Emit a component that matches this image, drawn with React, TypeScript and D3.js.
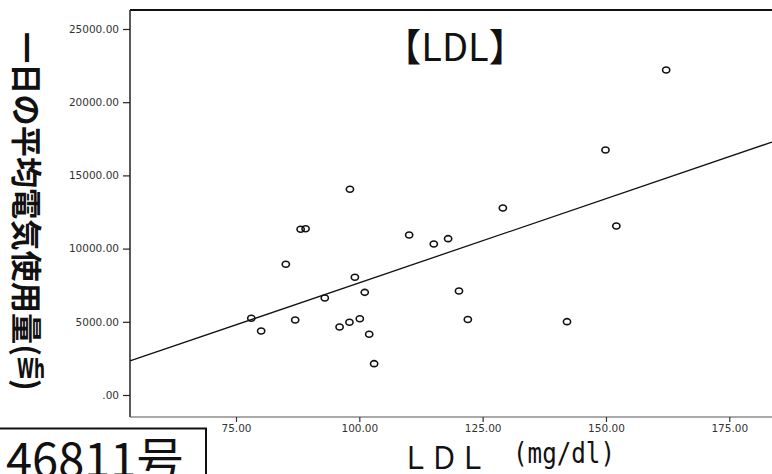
import { useEffect, useRef } from "react";
import * as d3 from "d3";

// LDL (mg/dl) vs daily average electricity use (Wh)
const ldl = [78.1, 80.1, 85.1, 87.0, 88.1, 89.1, 93.0, 96.0, 98.1, 98.0, 99.1, 100.1, 101.1, 102.0, 103.0,
    110.1, 115.1, 118.0, 120.2, 122.0, 129.1, 142.1, 149.9, 152.1, 162.2];
const wh = [5240, 4370, 8930, 5120, 11320, 11360, 6630, 4640, 14050, 4970, 8040, 5210, 7010, 4150, 2140,
    10930, 10310, 10680, 7100, 5160, 12770, 5010, 16730, 11540, 22200];

const xTicks = [75, 100, 125, 150, 175];
const yTicks = [0, 5000, 10000, 15000, 20000, 25000];

// fitted line as drawn: wh = a + b * ldl
const fitIntercept = -3825;
const fitSlope = 114.9;

export default function App() {
    const svgRef = useRef<SVGSVGElement>(null);

    useEffect(() => {
        if (!svgRef.current) return;
        const svg = d3.select(svgRef.current);
        svg.selectAll("*").remove();

        const W = 772, H = 474;
        const frame = { left: 130, top: 10, bottom: 417, right: 772 };
        const tickFont = "'DejaVu Sans', Verdana, sans-serif";
        const cjk = "'Noto Sans CJK JP', sans-serif";

        const x = d3.scaleLinear().domain([75, 175]).range([236, 729.3]);
        const y = d3.scaleLinear().domain([0, 25000]).range([395, 29]);

        svg.append("rect").attr("width", W).attr("height", H).attr("fill", "#fff");

        // frame
        svg.append("line")
            .attr("x1", frame.left).attr("x2", frame.right).attr("y1", frame.top).attr("y2", frame.top)
            .attr("stroke", "#111").attr("stroke-width", 2);
        svg.append("line")
            .attr("x1", frame.left).attr("x2", frame.left).attr("y1", frame.top).attr("y2", frame.bottom)
            .attr("stroke", "#222").attr("stroke-width", 1.5);
        svg.append("line")
            .attr("x1", frame.left).attr("x2", frame.right).attr("y1", frame.bottom).attr("y2", frame.bottom)
            .attr("stroke", "#555").attr("stroke-width", 1.2);

        // y axis
        const yAxis = svg.append("g")
            .attr("transform", `translate(${frame.left},0)`)
            .call(d3.axisLeft(y).tickValues(yTicks).tickSize(7).tickPadding(4)
                .tickFormat(d => (+d === 0 ? ".00" : d3.format(".2f")(+d))));
        yAxis.select(".domain").remove();
        yAxis.selectAll("line").attr("stroke", "#222").attr("stroke-width", 1.2);
        yAxis.selectAll("text").attr("font-family", tickFont)
            .attr("font-size", 10.5).attr("fill", "#333");

        // x axis
        const xAxis = svg.append("g")
            .attr("transform", `translate(0,${frame.bottom})`)
            .call(d3.axisBottom(x).tickValues(xTicks).tickSize(5).tickPadding(3)
                .tickFormat(d => d3.format(".2f")(+d)));
        xAxis.select(".domain").remove();
        xAxis.selectAll("line").attr("stroke", "#333").attr("stroke-width", 1.2);
        xAxis.selectAll("text").attr("font-family", tickFont)
            .attr("font-size", 10.5).attr("fill", "#333");

        // fit line
        const xs = [x.invert(frame.left), x.invert(frame.right)];
        svg.append("path")
            .datum(xs)
            .attr("fill", "none")
            .attr("stroke", "#111")
            .attr("stroke-width", 1.3)
            .attr("d", d3.line<number>().x(d => x(d)).y(d => y(fitIntercept + fitSlope * d)));

        // points
        svg.append("g")
            .selectAll("ellipse")
            .data(ldl.map((v, i) => [v, wh[i]]))
            .join("ellipse")
            .attr("cx", d => x(d[0]))
            .attr("cy", d => y(d[1]))
            .attr("rx", 3.6)
            .attr("ry", 3)
            .attr("fill", "none")
            .attr("stroke", "#111")
            .attr("stroke-width", 1.6);

        // title
        svg.append("text")
            .attr("x", 455).attr("y", 61)
            .attr("text-anchor", "middle")
            .attr("font-family", cjk)
            .attr("font-size", 38)
            .attr("fill", "#111")
            .text("【LDL】");

        // x title
        svg.append("text")
            .attr("x", 401).attr("y", 469)
            .attr("font-family", cjk)
            .attr("font-size", 31)
            .attr("fill", "#111")
            .attr("textLength", 86)
            .attr("lengthAdjust", "spacingAndGlyphs")
            .text("ＬＤＬ");
        svg.append("text")
            .attr("x", 513).attr("y", 463)
            .attr("font-family", "'DejaVu Sans Mono', 'Liberation Mono', monospace")
            .attr("font-size", 29)
            .attr("fill", "#111")
            .attr("textLength", 102)
            .attr("lengthAdjust", "spacingAndGlyphs")
            .text("(mg/dl)");

        // y title: sideways CJK, upright "Wh"
        svg.append("text")
            .attr("transform", "translate(28,32) rotate(90)")
            .attr("dominant-baseline", "central")
            .attr("font-family", cjk)
            .attr("font-weight", 700)
            .attr("font-size", 31)
            .attr("fill", "#111")
            .attr("textLength", 324)
            .attr("lengthAdjust", "spacingAndGlyphs")
            .text("一日の平均電気使用量(");
        svg.append("text")
            .attr("x", 31).attr("y", 378)
            .attr("text-anchor", "middle")
            .attr("font-family", "'DejaVu Sans', sans-serif")
            .attr("font-weight", 700)
            .attr("font-size", 26)
            .attr("fill", "#111")
            .attr("textLength", 28)
            .attr("lengthAdjust", "spacingAndGlyphs")
            .text("Wh");
        svg.append("text")
            .attr("transform", "translate(28,379) rotate(90)")
            .attr("dominant-baseline", "central")
            .attr("font-family", cjk)
            .attr("font-weight", 700)
            .attr("font-size", 31)
            .attr("fill", "#111")
            .text(")");

        // bottom-left stamp box
        svg.append("path")
            .attr("d", `M0,428.5H206V${H}`)
            .attr("fill", "none")
            .attr("stroke", "#111")
            .attr("stroke-width", 2);
        svg.append("text")
            .attr("x", 6).attr("y", 477)
            .attr("font-family", cjk)
            .attr("font-size", 47)
            .attr("fill", "#111")
            .text("46811号");
    }, []);

    return (
        <svg
            ref={svgRef}
            width={772}
            height={474}
            style={{ position: "absolute", left: 0, top: 0, display: "block" }}
        />
    );
}
